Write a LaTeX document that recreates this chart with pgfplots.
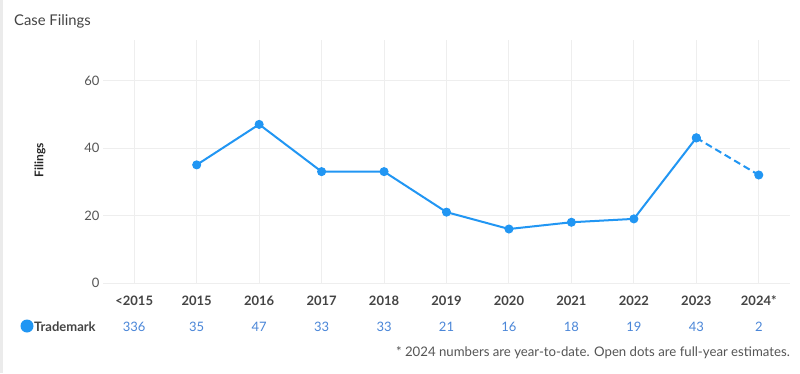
\documentclass[border=0pt]{standalone}
\usepackage{fontspec}
\setmainfont{Lato}
\usepackage{pgfplots}
\pgfplotsset{compat=1.18}
\definecolor{linec}{HTML}{2196F3}
\definecolor{valc}{HTML}{4A86D8}
\definecolor{gridc}{HTML}{EEEEEE}
\definecolor{txt}{HTML}{444444}
\definecolor{txtl}{HTML}{555555}
\begin{document}
\begin{tikzpicture}[x=1pt,y=1pt]
\fill[white] (0,0) rectangle (800,373);
\path[use as bounding box] (0,0) rectangle (800,373);
\fill[black!8] (0,0) rectangle (3,373);
\node[anchor=base west, font=\fontsize{14.8}{17}\selectfont, text=txt, inner sep=0] at (14,347) {Case Filings};
\node[rotate=90, font=\fontsize{12}{14}\selectfont\bfseries, text=black!85, inner sep=0] at (40,213) {Filings};
\begin{axis}[
  at={(103pt,90pt)}, anchor=south west, scale only axis,
  width=687pt, height=243pt,
  xmin=-0.5, xmax=10.5, ymin=0, ymax=72,
  axis line style={draw=none}, tick style={draw=none},
  grid=major, grid style={gridc, line width=1pt},
  ytick={0,20,40,60},
  xtick={0,...,10},
  xticklabels={<2015,2015,2016,2017,2018,2019,2020,2021,2022,2023,2024*},
  xticklabel style={anchor=base, yshift=-22pt, font=\fontsize{13}{15}\selectfont\bfseries, text=txt},
  yticklabel style={font=\fontsize{13}{15}\selectfont, text=txtl},
  /pgf/number format/assume math mode=true,
  clip=false,
]
\addplot[linec, line width=2pt, mark=*, mark size=4pt, mark options={solid, line width=1pt}] coordinates {
(1,35) (2,47) (3,33) (4,33) (5,21) (6,16) (7,18) (8,19) (9,43)};
\addplot[linec, line width=2pt, dash pattern=on 7pt off 4pt, mark=*, mark size=4pt, mark options={solid, line width=1pt}] coordinates {
(9,43) (10,32)};
\node[anchor=base, font=\fontsize{13}{15}\selectfont, text=valc] at ([yshift=-48pt]axis cs:0,0) {336};
\node[anchor=base, font=\fontsize{13}{15}\selectfont, text=valc] at ([yshift=-48pt]axis cs:1,0) {35};
\node[anchor=base, font=\fontsize{13}{15}\selectfont, text=valc] at ([yshift=-48pt]axis cs:2,0) {47};
\node[anchor=base, font=\fontsize{13}{15}\selectfont, text=valc] at ([yshift=-48pt]axis cs:3,0) {33};
\node[anchor=base, font=\fontsize{13}{15}\selectfont, text=valc] at ([yshift=-48pt]axis cs:4,0) {33};
\node[anchor=base, font=\fontsize{13}{15}\selectfont, text=valc] at ([yshift=-48pt]axis cs:5,0) {21};
\node[anchor=base, font=\fontsize{13}{15}\selectfont, text=valc] at ([yshift=-48pt]axis cs:6,0) {16};
\node[anchor=base, font=\fontsize{13}{15}\selectfont, text=valc] at ([yshift=-48pt]axis cs:7,0) {18};
\node[anchor=base, font=\fontsize{13}{15}\selectfont, text=valc] at ([yshift=-48pt]axis cs:8,0) {19};
\node[anchor=base, font=\fontsize{13}{15}\selectfont, text=valc] at ([yshift=-48pt]axis cs:9,0) {43};
\node[anchor=base, font=\fontsize{13}{15}\selectfont, text=valc] at ([yshift=-48pt]axis cs:10,0) {2};
\end{axis}
\fill[linec] (27,47) circle (6.5);
\node[anchor=base west, font=\fontsize{13}{15}\selectfont\bfseries, text=txt, inner sep=0] at (34,42) {Trademark};
\node[anchor=base east, font=\fontsize{13.2}{15}\selectfont, text=txtl, inner sep=0] at (790,17) {* 2024 numbers are year-to-date. Open dots are full-year estimates.};
\end{tikzpicture}
\end{document}
